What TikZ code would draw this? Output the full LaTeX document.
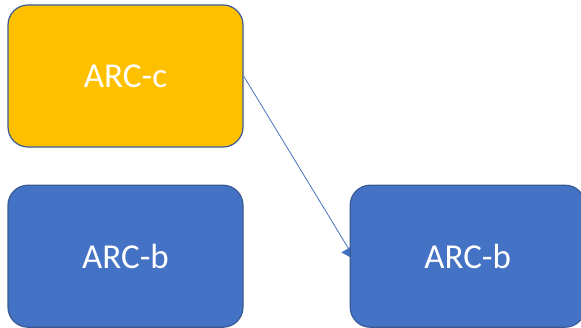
\documentclass[tikz,border=0pt]{standalone}
\usepackage{fontspec}
\setmainfont{Carlito}
\usetikzlibrary{arrows.meta,positioning,calc,backgrounds}
\definecolor{arcgold}{HTML}{FFC000}
\definecolor{arcblue}{HTML}{4472C4}
\definecolor{arcedge}{HTML}{3A5A94}

\begin{document}
\begin{tikzpicture}[x=1pt, y=-1pt, >=Latex,
  blk/.style={draw=arcedge, line width=1.2pt, rounded corners=20pt, minimum width=235pt, minimum height=142pt,
    text=white, font=\fontsize{35}{38}\selectfont, inner sep=0pt},
  lnk/.style={draw=arcblue, line width=0.8pt, -{Triangle[length=14pt,width=16pt]}}]
\useasboundingbox (0,0) rectangle (581,328);
\node[blk, fill=arcgold] (c) at (125.5,76) {ARC-c};
\node[blk, fill=arcblue, below=37pt of c] (b1) {ARC-b};
\node[blk, fill=arcblue, right=106pt of b1] (b2) {ARC-b};
\begin{pgfonlayer}{background}
\draw[lnk] (c.east) -- ($(b2.west)+(6,4)$);
\end{pgfonlayer}
\end{tikzpicture}
\end{document}
